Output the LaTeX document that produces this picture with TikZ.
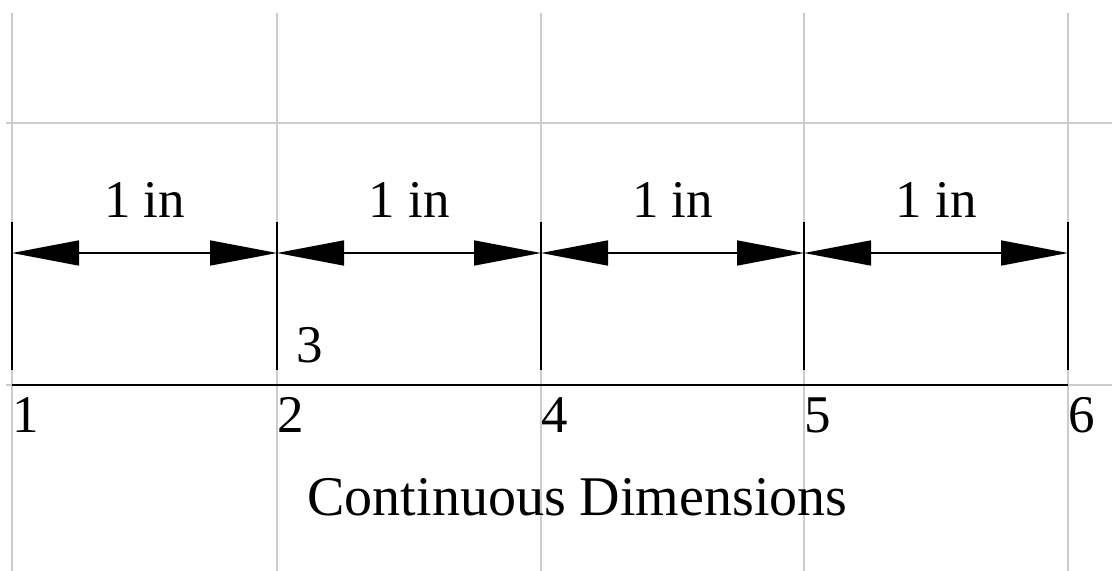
\documentclass[tikz,border=0pt]{standalone}
\usepackage{fontspec}
\setmainfont{Liberation Serif}
\usepackage{tikz}
\usetikzlibrary{arrows.meta}
\definecolor{gridgray}{HTML}{CCCCCC}

\begin{document}
\begin{tikzpicture}[
    x=0.5pt, y=-0.5pt,
    gridline/.style={draw=gridgray, line width=1pt},
    extline/.style={draw=black, line width=1pt},
    dimline/.style={{Triangle[length=33.5pt, width=12.5pt]}-{Triangle[length=33.5pt, width=12.5pt]}, line width=0.8pt},
    dimlabel/.style={inner sep=0pt, anchor=base, font=\fontsize{26.5}{30}\selectfont},
    ptlabel/.style={inner sep=0pt, anchor=base west, font=\fontsize{26.5}{30}\selectfont},
  ]
  \fill[white] (0,0) rectangle (1112,571);
  \useasboundingbox (0,0) rectangle (1112,571);

  % grid
  \foreach \gx in {12,277,541,804,1068}
    \draw[gridline] (\gx,13) -- (\gx,571);
  \draw[gridline] (6,123) -- (1112,123);
  \draw[gridline] (6,385) -- (1112,385);

  % extension lines
  \foreach \gx in {12,277,541,804,1068}
    \draw[extline] (\gx,222) -- (\gx,370);

  \coordinate (d1) at (12,253);
  \coordinate (d2) at (277,253);
  \coordinate (d4) at (541,253);
  \coordinate (d5) at (804,253);
  \coordinate (d6) at (1068,253);

  \draw[dimline] (d1) -- (d2);
  \draw[dimline] (d2) -- (d4);
  \draw[dimline] (d4) -- (d5);
  \draw[dimline] (d5) -- (d6);

  \coordinate (s1) at (12,385);
  \coordinate (s6) at (1068,385);
  \draw[extline] (s1) -- (s6);

  \node[dimlabel] (len12) at (144.5,218) {1 in};
  \node[dimlabel] (len24) at (409,218) {1 in};
  \node[dimlabel] (len45) at (672.5,218) {1 in};
  \node[dimlabel] (len56) at (936,218) {1 in};

  \node[ptlabel] (pt1) at (12,432) {1};
  \node[ptlabel] (pt2) at (277,432) {2};
  \node[ptlabel] (pt3) at (296,363) {3};
  \node[ptlabel] (pt4) at (541,432) {4};
  \node[ptlabel] (pt5) at (804,432) {5};
  \node[ptlabel] (pt6) at (1068,432) {6};

  \node[inner sep=0pt, anchor=base, font=\fontsize{28}{32}\selectfont] (caption) at (577.5,515) {Continuous Dimensions};
\end{tikzpicture}
\end{document}
